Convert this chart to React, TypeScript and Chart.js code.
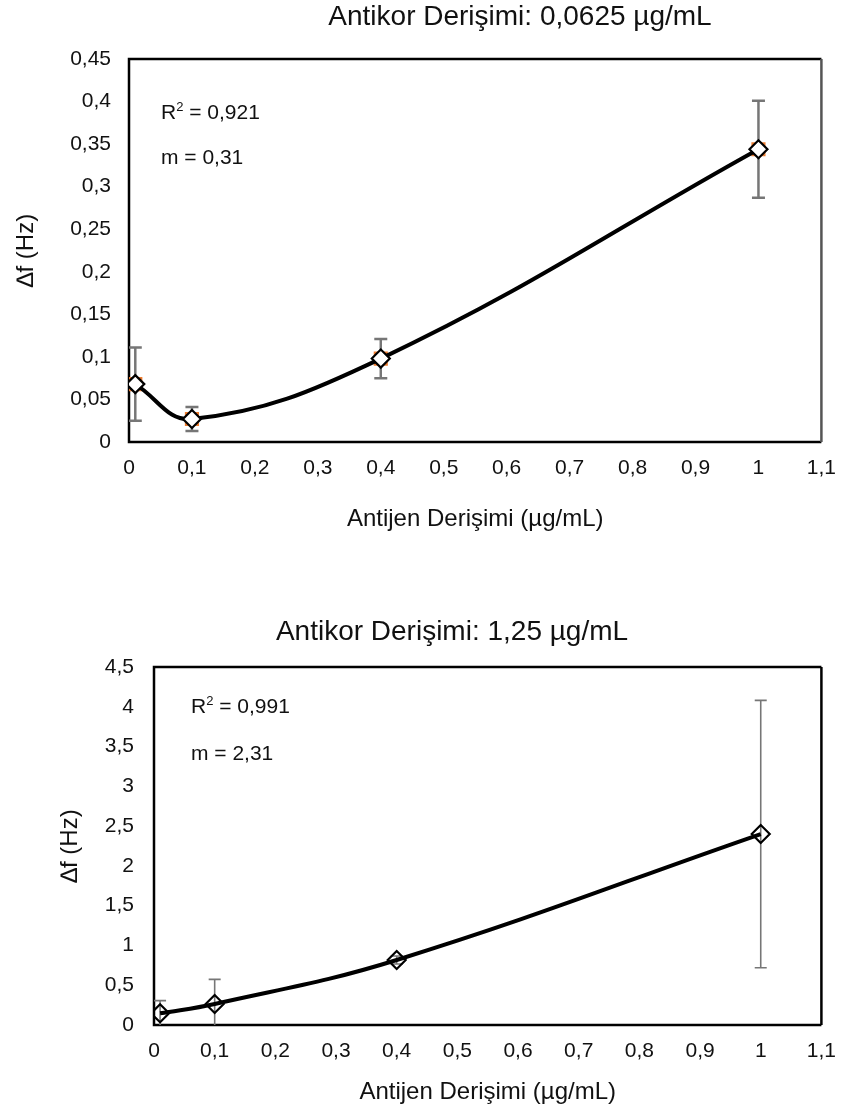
import React, { useEffect, useRef } from "react";
import { Chart, registerables } from "chart.js";

Chart.register(...registerables);

// ---------- data ----------
const xValues = [0.01, 0.1, 0.4, 1];

const topValues = [0.068, 0.027, 0.098, 0.344];
const topErrors = [0.043, 0.014, 0.023, 0.057];

const bottomValues = [0.147, 0.264, 0.817, 2.4];
const bottomErrors = [0.16, 0.31, 0.05, 1.68];

const topTitle = "Antikor Derişimi: 0,0625 µg/mL";
const bottomTitle = "Antikor Derişimi: 1,25 µg/mL";
const xAxisTitle = "Antijen Derişimi (µg/mL)";
const yAxisTitle = "∆f (Hz)";

const topStats = ["0,921", "0,31"];
const bottomStats = ["0,991", "2,31"];

const xMin = 0;
const xMax = 1.1;
const xStep = 0.1;
const topYMax = 0.45;
const topYStep = 0.05;
const bottomYMax = 4.5;
const bottomYStep = 0.5;

// ---------- styling ----------
const FONT = "'Liberation Sans', Arial, Helvetica, sans-serif";
const TEXT = "#111111";

const fmt = (v: number) => String(parseFloat(Number(v).toFixed(3))).replace(".", ",");

type Geo = {
  canvasH: number;
  padTop: number;
  padRight: number;
  yAxisWidth: number;
  xAxisHeight: number;
  yTitlePad: number;
  xTitlePad: number;
  yTickPad: number;
  xTickPad: number;
  titleX: number;
  titleY: number;
  statsDx: number;
  statsDy1: number;
  statsDy2: number;
  rightBorder: string;
};

type Params = {
  values: number[];
  errors: number[];
  yMax: number;
  yStep: number;
  title: string;
  stats: string[];
  geo: Geo;
  whiteMarkers: boolean;
  errWidth: number;
  errCap: number;
};

function makeConfig(p: Params): any {
  const g = p.geo;
  const points = xValues.map((x, i) => ({ x, y: p.values[i] }));

  const framePlugin = {
    id: "frame",
    beforeDatasetsDraw(chart: any) {
      const { ctx, chartArea: a } = chart;
      ctx.save();
      ctx.lineWidth = 2.5;
      ctx.strokeStyle = "#000";
      ctx.beginPath();
      ctx.moveTo(a.right, a.top);
      ctx.lineTo(a.left, a.top);
      ctx.lineTo(a.left, a.bottom);
      ctx.lineTo(a.right, a.bottom);
      ctx.stroke();
      ctx.strokeStyle = g.rightBorder;
      ctx.beginPath();
      ctx.moveTo(a.right, a.top);
      ctx.lineTo(a.right, a.bottom);
      ctx.stroke();
      ctx.restore();
    },
  };

  const errorBarPlugin = {
    id: "errorBars",
    beforeDatasetsDraw(chart: any) {
      const { ctx, chartArea: a, scales } = chart;
      const xs = scales.x;
      const ys = scales.y;
      ctx.save();
      ctx.beginPath();
      ctx.rect(a.left, a.top, a.right - a.left, a.bottom - a.top);
      ctx.clip();
      ctx.strokeStyle = "#767676";
      ctx.lineWidth = p.errWidth;
      xValues.forEach((xv, i) => {
        const px = xs.getPixelForValue(xv);
        const hi = ys.getPixelForValue(p.values[i] + p.errors[i]);
        const lo = ys.getPixelForValue(p.values[i] - p.errors[i]);
        ctx.beginPath();
        ctx.moveTo(px, hi);
        ctx.lineTo(px, lo);
        ctx.moveTo(px - p.errCap, hi);
        ctx.lineTo(px + p.errCap, hi);
        ctx.moveTo(px - p.errCap, lo);
        ctx.lineTo(px + p.errCap, lo);
        ctx.stroke();
      });
      ctx.restore();
    },
  };

  const textPlugin = {
    id: "texts",
    afterDraw(chart: any) {
      const { ctx, chartArea: a } = chart;
      ctx.save();
      ctx.fillStyle = TEXT;
      ctx.textBaseline = "middle";
      // title
      ctx.font = `28px ${FONT}`;
      ctx.textAlign = "center";
      ctx.fillText(p.title, g.titleX, g.titleY);
      // stats
      ctx.textAlign = "left";
      const sx = a.left + g.statsDx;
      const sy1 = a.top + g.statsDy1;
      const sy2 = a.top + g.statsDy2;
      ctx.font = `21px ${FONT}`;
      ctx.fillText("R", sx, sy1);
      const wR = ctx.measureText("R").width;
      ctx.font = `13px ${FONT}`;
      ctx.fillText("2", sx + wR, sy1 - 6);
      const w2 = ctx.measureText("2").width;
      ctx.font = `21px ${FONT}`;
      ctx.fillText(" = " + p.stats[0], sx + wR + w2, sy1);
      ctx.fillText("m = " + p.stats[1], sx, sy2);
      ctx.restore();
    },
  };

  const datasets: any[] = [
    {
      label: "main",
      data: points,
      borderColor: "#000",
      borderWidth: 4,
      tension: 0.4,
      fill: false,
      pointStyle: "rectRot",
      pointRadius: 9,
      pointBorderWidth: 2.2,
      pointBorderColor: "#000",
      pointBackgroundColor: p.whiteMarkers ? "#ffffff" : "rgba(0,0,0,0)",
    },
  ];
  if (p.whiteMarkers) {
    datasets.push({
      label: "under",
      data: points,
      showLine: false,
      pointStyle: "rect",
      pointRadius: 10,
      pointBorderWidth: 0,
      pointBackgroundColor: "#ED7D31",
      pointBorderColor: "#ED7D31",
    });
  }

  return {
    type: "line",
    data: { datasets },
    plugins: [framePlugin, errorBarPlugin, textPlugin],
    options: {
      animation: false,
      responsive: false,
      devicePixelRatio: 1,
      events: [],
      layout: { padding: { top: g.padTop, right: g.padRight, left: 0, bottom: 0 } },
      plugins: {
        legend: { display: false },
        title: { display: false },
        tooltip: { enabled: false },
      },
      scales: {
        x: {
          type: "linear",
          min: xMin,
          max: xMax,
          grid: { display: false, drawTicks: false },
          border: { display: false },
          ticks: {
            stepSize: xStep,
            padding: g.xTickPad,
            color: TEXT,
            font: { family: FONT, size: 21 },
            maxRotation: 0,
            autoSkip: false,
            callback: (v: any) => fmt(v),
          },
          title: {
            display: true,
            text: xAxisTitle,
            color: TEXT,
            font: { family: FONT, size: 24 },
            padding: { top: 0, bottom: g.xTitlePad },
          },
          afterFit: (s: any) => {
            s.height = g.xAxisHeight;
          },
        },
        y: {
          type: "linear",
          min: 0,
          max: p.yMax,
          grid: { display: false, drawTicks: false },
          border: { display: false },
          ticks: {
            stepSize: p.yStep,
            padding: g.yTickPad,
            color: TEXT,
            font: { family: FONT, size: 21 },
            autoSkip: false,
            callback: (v: any) => fmt(v),
          },
          title: {
            display: true,
            text: yAxisTitle,
            color: TEXT,
            font: { family: FONT, size: 24 },
            padding: { top: g.yTitlePad, bottom: 0 },
          },
          afterFit: (s: any) => {
            s.width = g.yAxisWidth;
          },
        },
      },
    },
  };
}

function ChartCanvas({ config, height, top }: { config: any; height: number; top: number }) {
  const ref = useRef<HTMLCanvasElement>(null);
  useEffect(() => {
    const chart = new Chart(ref.current as HTMLCanvasElement, config);
    return () => chart.destroy();
  }, [config]);
  return (
    <canvas
      ref={ref}
      width={850}
      height={height}
      style={{ position: "absolute", left: 0, top, width: 850, height }}
    />
  );
}

const topConfig = makeConfig({
  values: topValues,
  errors: topErrors,
  yMax: topYMax,
  yStep: topYStep,
  title: topTitle,
  stats: topStats,
  whiteMarkers: true,
  errWidth: 2.5,
  errCap: 6.5,
  geo: {
    canvasH: 560,
    padTop: 59,
    padRight: 16,
    yAxisWidth: 129,
    xAxisHeight: 118,
    yTitlePad: 12,
    xTitlePad: 26,
    yTickPad: 18,
    xTickPad: 14,
    titleX: 520,
    titleY: 17,
    statsDx: 32,
    statsDy1: 54,
    statsDy2: 99,
    rightBorder: "#555555",
  },
});

const bottomConfig = makeConfig({
  values: bottomValues,
  errors: bottomErrors,
  yMax: bottomYMax,
  yStep: bottomYStep,
  title: bottomTitle,
  stats: bottomStats,
  whiteMarkers: false,
  errWidth: 1.6,
  errCap: 6,
  geo: {
    canvasH: 555,
    padTop: 107,
    padRight: 25,
    yAxisWidth: 154,
    xAxisHeight: 90,
    yTitlePad: 56,
    xTitlePad: 8,
    yTickPad: 20,
    xTickPad: 14,
    titleX: 452,
    titleY: 72,
    statsDx: 37,
    statsDy1: 40,
    statsDy2: 87,
    rightBorder: "#000000",
  },
});

export default function App() {
  return (
    <div style={{ position: "absolute", left: 0, top: 0, width: 850, height: 1115, background: "#fff" }}>
      <ChartCanvas config={topConfig} height={560} top={0} />
      <ChartCanvas config={bottomConfig} height={555} top={560} />
    </div>
  );
}
